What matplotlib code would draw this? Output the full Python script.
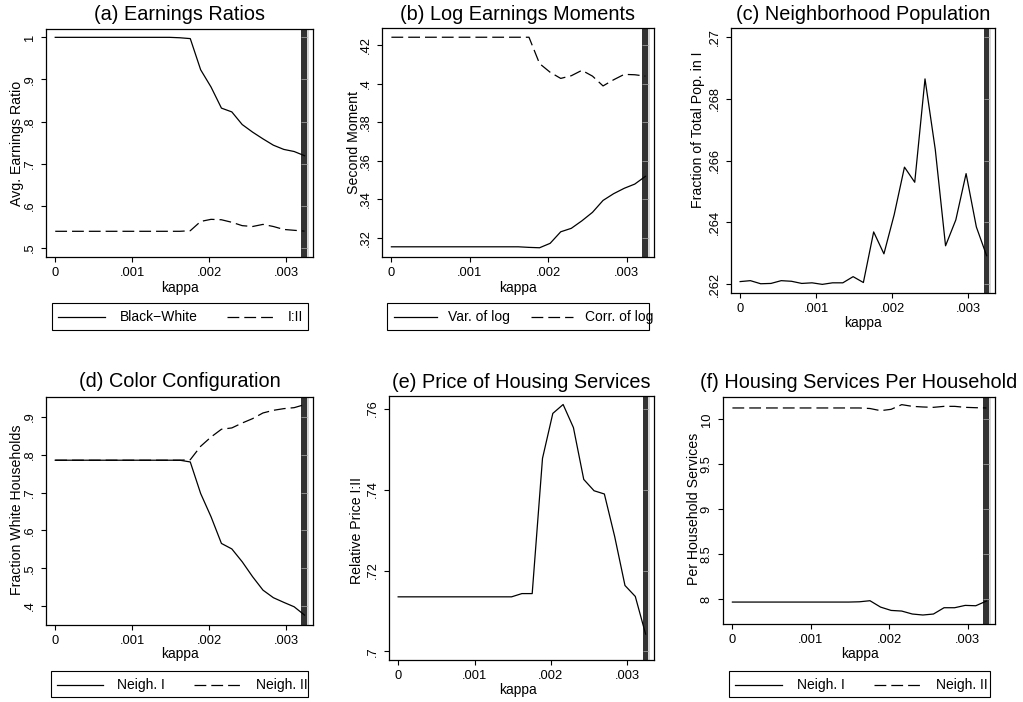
import matplotlib
matplotlib.use('Agg')
import matplotlib.pyplot as plt
from matplotlib.lines import Line2D
from matplotlib.patches import Rectangle

plt.rcParams['font.family'] = ['Liberation Sans', 'DejaVu Sans']
plt.rcParams['lines.scale_dashes'] = False

W, H = 1023, 702
fig = plt.figure(figsize=(W / 100, H / 100), dpi=100)


def fx(px):
    return px / W


def fy(py):
    return 1 - py / H


# ---------------- data ----------------
kappa = [0.0, 0.000135, 0.00027, 0.000405, 0.00054, 0.000675, 0.00081, 0.000945,
         0.00108, 0.001215, 0.00135, 0.001485, 0.00162, 0.001755, 0.00189, 0.002025,
         0.00216, 0.002295, 0.00243, 0.002565, 0.0027, 0.002835, 0.00297, 0.003105,
         0.00324]

x_ticks = [0, 0.001, 0.002, 0.003]
x_ticklabels = ['0', '.001', '.002', '.003']

# (a) Earnings ratios
ratio_black_white = [1.0, 1.0, 1.0, 1.0, 1.0, 1.0, 1.0, 1.0, 1.0, 1.0, 1.0, 1.0, 0.999,
                     0.997, 0.923, 0.882, 0.832, 0.823, 0.793, 0.775, 0.759, 0.744,
                     0.734, 0.729, 0.719]
ratio_I_II = [0.5396, 0.5396, 0.5396, 0.5396, 0.5396, 0.5396, 0.5396, 0.5396, 0.5396,
              0.5396, 0.5396, 0.5396, 0.5396, 0.541, 0.563, 0.568, 0.567, 0.561, 0.553,
              0.551, 0.556, 0.551, 0.544, 0.542, 0.540]
a_yticks = [0.5, 0.6, 0.7, 0.8, 0.9, 1.0]
a_yticklabels = ['.5', '.6', '.7', '.8', '.9', '1']

# (b) Log earnings moments
var_log = [0.3153, 0.3153, 0.3153, 0.3153, 0.3153, 0.3153, 0.3153, 0.3153, 0.3153,
           0.3153, 0.3153, 0.3153, 0.3153, 0.3150, 0.3148, 0.3171, 0.3231, 0.3249,
           0.3288, 0.3332, 0.3394, 0.3429, 0.3457, 0.3479, 0.3519]
corr_log = [0.4242, 0.4242, 0.4242, 0.4242, 0.4242, 0.4242, 0.4242, 0.4242, 0.4242,
            0.4242, 0.4242, 0.4242, 0.4242, 0.4242, 0.4105, 0.4060, 0.4028, 0.4042,
            0.4070, 0.4040, 0.3989, 0.4021, 0.4049, 0.4047, 0.4040]
b_yticks = [0.32, 0.34, 0.36, 0.38, 0.40, 0.42]
b_yticklabels = ['.32', '.34', '.36', '.38', '.4', '.42']

# (c) Neighborhood population
pop_frac_I = [0.26208, 0.26211, 0.26201, 0.26202, 0.26211, 0.26209, 0.26202, 0.26204,
              0.26199, 0.26204, 0.26204, 0.26224, 0.26205, 0.26369, 0.26298, 0.26425,
              0.26579, 0.26530, 0.26865, 0.26636, 0.26324, 0.26408, 0.26558, 0.26385,
              0.26292]
c_yticks = [0.262, 0.264, 0.266, 0.268, 0.270]
c_yticklabels = ['.262', '.264', '.266', '.268', '.27']

# (d) Color configuration
white_I = [0.7856, 0.7856, 0.7856, 0.7856, 0.7856, 0.7856, 0.7856, 0.7856, 0.7856,
           0.7856, 0.7856, 0.7856, 0.7856, 0.781, 0.6975, 0.636, 0.5655, 0.551, 0.517,
           0.4775, 0.442, 0.422, 0.4097, 0.398, 0.376]
white_II = [0.7856, 0.7856, 0.7856, 0.7856, 0.7856, 0.7856, 0.7856, 0.7856, 0.7856,
            0.7856, 0.7856, 0.7856, 0.7856, 0.787, 0.8225, 0.847, 0.8675, 0.871, 0.884,
            0.8956, 0.9106, 0.9176, 0.922, 0.9246, 0.9326]
d_yticks = [0.4, 0.5, 0.6, 0.7, 0.8, 0.9]
d_yticklabels = ['.4', '.5', '.6', '.7', '.8', '.9']

# (e) Price of housing services
rel_price = [0.7135, 0.7135, 0.7135, 0.7135, 0.7135, 0.7135, 0.7135, 0.7135, 0.7135,
             0.7135, 0.7135, 0.7135, 0.7143, 0.7143, 0.7477, 0.7588, 0.7610, 0.7553,
             0.7425, 0.7397, 0.7389, 0.7284, 0.7163, 0.7136, 0.7043]
e_yticks = [0.70, 0.72, 0.74, 0.76]
e_yticklabels = ['.7', '.72', '.74', '.76']

# (f) Housing services per household
serv_I = [7.967, 7.967, 7.967, 7.967, 7.967, 7.967, 7.967, 7.967, 7.967, 7.967, 7.967,
          7.967, 7.970, 7.982, 7.911, 7.874, 7.867, 7.834, 7.823, 7.834, 7.904, 7.904,
          7.930, 7.926, 7.978]
serv_II = [10.126, 10.126, 10.126, 10.126, 10.126, 10.126, 10.126, 10.126, 10.126,
           10.126, 10.126, 10.126, 10.126, 10.120, 10.096, 10.111, 10.163, 10.144,
           10.137, 10.133, 10.144, 10.144, 10.133, 10.129, 10.126]
f_yticks = [8.0, 8.5, 9.0, 9.5, 10.0]
f_yticklabels = ['8', '8.5', '9', '9.5', '10']

SOLID = '-'
DASH = (0, (8.5, 3.6))
LW = 0.9
XLIM = (-0.00012, 0.00335)


def draw_legend(box, entries, labels, styles):
    """box = (x0, y0, x1, y1) px; entries = [(handle_x0, handle_x1, text_x0), ...]"""
    x0, y0, x1, y1 = box
    fig.add_artist(Rectangle((fx(x0), fy(y1)), (x1 - x0) / W, (y1 - y0) / H,
                             transform=fig.transFigure, facecolor='white',
                             edgecolor='black', lw=0.8))
    yc = (y0 + y1) / 2 + 0.5
    for (hx0, hx1, tx), lab, ls in zip(entries, labels, styles):
        fig.add_artist(Line2D([fx(hx0), fx(hx1)], [fy(yc), fy(yc)],
                              transform=fig.transFigure, color='black', lw=LW, ls=ls))
        fig.text(fx(tx), fy(yc), lab, fontsize=10, ha='left', va='center')


def panel(box, title, title_ypx, ylabel, ylabel_pos, xlabel_pos, ylim, yticks,
          yticklabels, series, legend_box=None, legend_entries=None,
          legend_labels=None):
    L, T, R, B = box
    ax = fig.add_axes([fx(L), fy(B), (R - L) / W, (B - T) / H])
    ax.set_xlim(*XLIM)
    ax.set_ylim(*ylim)
    ax.axvspan(0.0032, 0.00327, color='#333333', lw=0, zorder=1)
    ax.axvspan(0.00327, 0.0033, color='#d6d6d6', lw=0, zorder=1)
    ax.hlines(yticks, 0.0032, 0.00327, color='#8c8c8c', lw=0.7, zorder=1.5)
    for yv, ls in series:
        ax.plot(kappa, yv, color='black', lw=LW, ls=ls, zorder=3)
    ax.set_xticks(x_ticks, x_ticklabels)
    ax.set_yticks(yticks, yticklabels)
    ax.tick_params(direction='out', length=3.6, width=0.8, pad=3.8, labelsize=9.3,
                   colors='black')
    ax.tick_params(axis='y', labelrotation=90)
    plt.setp(ax.get_yticklabels(), va='center')
    for s in ax.spines.values():
        s.set_linewidth(0.9)
        s.set_color('black')
    ax.set_title(title, fontsize=14.3, y=1 + (T - title_ypx) / (B - T), pad=0,
                 va='center')
    ax.set_ylabel(ylabel, fontsize=10.2)
    ax.yaxis.set_label_coords(fx(ylabel_pos[0]), fy(ylabel_pos[1]),
                              transform=fig.transFigure)
    ax.yaxis.label.set_va('center')
    ax.set_xlabel('kappa', fontsize=10)
    ax.xaxis.set_label_coords(fx(xlabel_pos[0]), fy(xlabel_pos[1]),
                              transform=fig.transFigure)
    ax.xaxis.label.set_va('center')
    if legend_box is not None:
        draw_legend(legend_box, legend_entries, legend_labels, [ls for _, ls in series])
    return ax


panel((46, 29, 313, 257), '(a) Earnings Ratios', 14, 'Avg. Earnings Ratio', (17, 143),
      (180, 288), (0.4786, 1.0198), a_yticks, a_yticklabels,
      [(ratio_black_white, SOLID), (ratio_I_II, DASH)],
      legend_box=(52, 303, 308, 330),
      legend_entries=[(58, 105, 120), (227, 275, 288)],
      legend_labels=['Black\u2212White', 'I:II'])

panel((382, 28, 654, 257), '(b) Log Earnings Moments', 14, 'Second Moment', (354.5, 142),
      (518, 288), (0.310, 0.429), b_yticks, b_yticklabels,
      [(var_log, SOLID), (corr_log, DASH)],
      legend_box=(387, 303, 649, 330),
      legend_entries=[(394, 437, 448), (531, 573, 585)],
      legend_labels=['Var. of log', 'Corr. of log'])

panel((731, 28, 995, 293), '(c) Neighborhood Population', 14,
      'Fraction of Total Pop. in I', (698, 130), (863, 323), (0.26171, 0.2703),
      c_yticks, c_yticklabels, [(pop_frac_I, SOLID)])

panel((46, 397, 313, 625), '(d) Color Configuration', 382, 'Fraction White Households',
      (17.5, 510), (180, 654), (0.3498, 0.9528), d_yticks, d_yticklabels,
      [(white_I, SOLID), (white_II, DASH)],
      legend_box=(51, 671, 308, 697),
      legend_entries=[(57, 103, 117), (194, 240, 256)],
      legend_labels=['Neigh. I', 'Neigh. II'])

panel((389, 396, 654, 660), '(e) Price of Housing Services', 382, 'Relative Price I:II',
      (357, 530), (518, 690), (0.6979, 0.7631), e_yticks, e_yticklabels,
      [(rel_price, SOLID)])

panel((723, 397, 995, 624), '(f) Housing Services Per Household', 382,
      'Per Household Services', (694.5, 509), (860, 654), (7.723, 10.248),
      f_yticks, f_yticklabels, [(serv_I, SOLID), (serv_II, DASH)],
      legend_box=(729, 671, 990, 697),
      legend_entries=[(735, 782, 797), (874, 922, 936)],
      legend_labels=['Neigh. I', 'Neigh. II'])

fig.savefig('out.png', dpi=100)
